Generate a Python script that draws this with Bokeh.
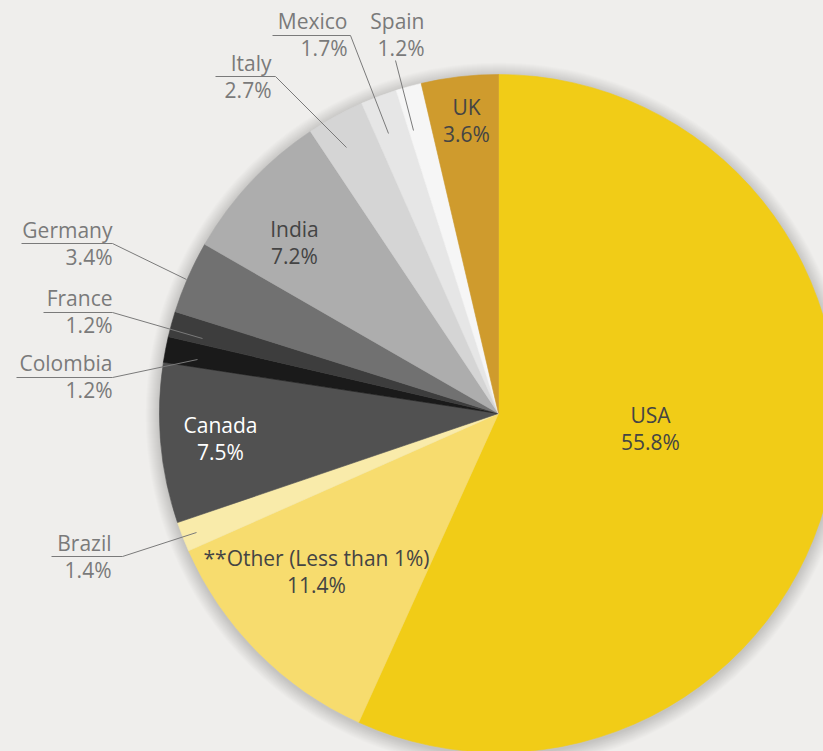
import math
from bokeh.plotting import figure
from bokeh.models import Range1d, ColumnDataSource
from bokeh.core.properties import value
from bokeh.embed import file_html
from bokeh.resources import INLINE

# ---- data (clockwise from 12 o'clock) ----
countries = ["USA", "**Other (Less than 1%)", "Brazil", "Canada", "Colombia", "France",
             "Germany", "India", "Italy", "Mexico", "Spain", "UK"]
shares = [55.8, 11.4, 1.4, 7.5, 1.2, 1.2, 3.4, 7.2, 2.7, 1.7, 1.2, 3.6]
share_labels = ["55.8%", "11.4%", "1.4%", "7.5%", "1.2%", "1.2%", "3.4%", "7.2%",
                "2.7%", "1.7%", "1.2%", "3.6%"]

# ---- styles ----
colors = ["#F1CC17", "#F7DC6E", "#F9EBAA", "#515151", "#1A1A1A", "#3D3D3D",
          "#717171", "#ADADAD", "#D5D5D5", "#E6E6E6", "#F6F6F6", "#CF9B2D"]
BG = "#EFEEEC"
FONT = value("Open Sans")
H = 751  # screen height used to convert screen y to data y

def Y(sy):
    return H - sy

cx, cy, R = 498, Y(413), 339

total = sum(shares)
starts, ends = [], []
acc = 0.0
for s in shares:
    a0 = math.pi / 2 - acc / total * 2 * math.pi
    acc += s
    a1 = math.pi / 2 - acc / total * 2 * math.pi
    starts.append(a0)
    ends.append(a1)

src = ColumnDataSource(dict(country=countries, share=shares, color=colors,
                            start=starts, end=ends))

p = figure(width=823, height=751, output_backend="svg", toolbar_location=None,
           x_range=Range1d(0, 823), y_range=Range1d(0, 751),
           min_border=0, background_fill_color=BG, border_fill_color=BG,
           outline_line_color=None)
p.axis.visible = False
p.grid.visible = False

# soft shadow
for k in range(14, 0, -1):
    p.circle(x=[cx], y=[cy - 2], radius=R + k, fill_color="black", fill_alpha=0.012,
             line_color=None)

p.wedge(x=cx, y=cy, radius=R, start_angle="start", end_angle="end", direction="clock",
        fill_color="color", line_color="color", line_width=0.6, source=src)

# ---- inside labels: (index, x, y of first line, color) ----
inside = [(0, 650, 414, "#444444"), (1, 316, 557, "#444444"), (3, 220, 424, "#FFFFFF"),
          (7, 294, 228, "#444444"), (11, 466, 106, "#444444")]
for i, x, y, c in inside:
    p.text(x=[x, x], y=[Y(y), Y(y + 27)], text=[countries[i], share_labels[i]],
           text_color=c, text_font=FONT, text_font_size="21px",
           text_align="center", text_baseline="middle")

# ---- outside labels: (index, text right x, first line y, leader path in screen px) ----
outside = [
    (9, 347, 20, [(272, 35), (350, 35), (388, 133)]),
    (10, 424, 20, [(395, 60), (413, 130)]),
    (8, 271, 62, [(215, 76), (275, 76), (346, 147)]),
    (6, 112, 229, [(21, 243), (112, 243), (186, 279)]),
    (5, 112, 297, [(43, 312), (112, 312), (202, 338)]),
    (4, 112, 362, [(16, 377), (112, 377), (197, 359)]),
    (2, 111, 542, [(51, 556), (122, 556), (196, 532)]),
]
for i, x, y, path in outside:
    p.text(x=[x, x], y=[Y(y), Y(y + 27)], text=[countries[i], share_labels[i]],
           text_color="#7A7A7A", text_font=FONT, text_font_size="21px",
           text_align="right", text_baseline="middle")
    p.line(x=[q[0] for q in path], y=[Y(q[1]) for q in path], line_color="#7A7A7A",
           line_width=1)

html = file_html(p, INLINE)
html = html.replace("</head>", "<style>html,body{background:#EFEEEC;}</style></head>", 1)
open("out.html", "w").write(html)
